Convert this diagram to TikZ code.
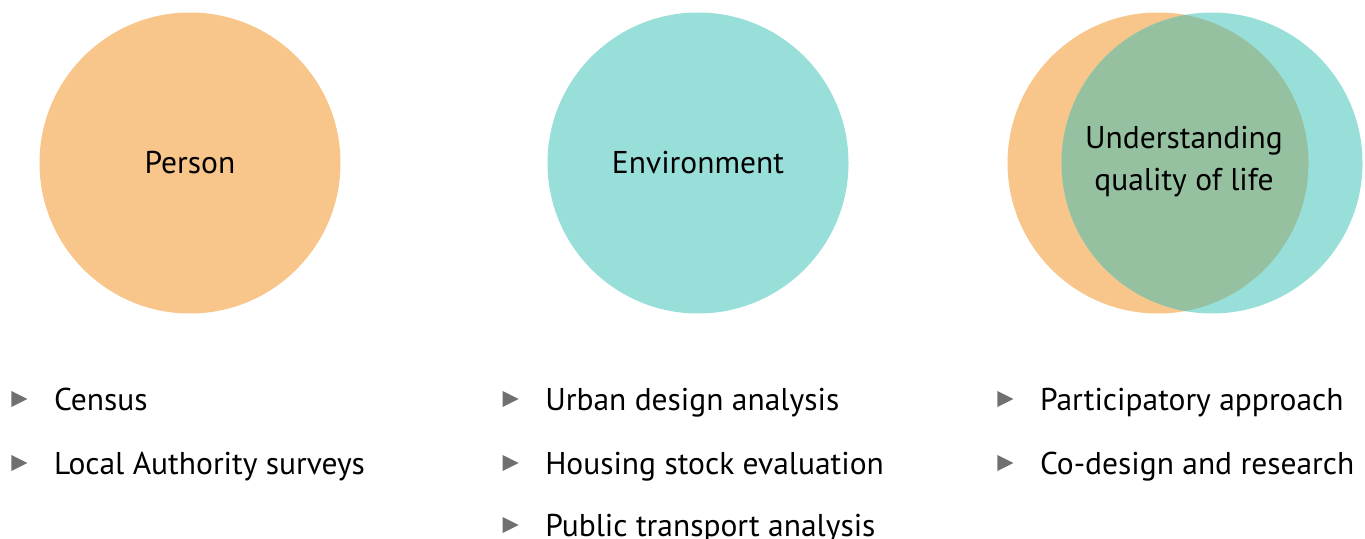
\documentclass[tikz,border=0pt]{standalone}
\usepackage{fontspec}
\setmainfont{PT Sans}
\usetikzlibrary{shapes.geometric,positioning}
\definecolor{peach}{RGB}{248,197,138}
\definecolor{aqua}{RGB}{152,222,217}
\definecolor{sage}{RGB}{150,193,160}
\definecolor{bulletgray}{RGB}{112,112,112}
\tikzset{
  disc/.style={circle,minimum size=301pt,inner sep=0pt},
  disctext/.style={align=center,inner sep=0pt,font=\fontsize{31.5}{42}\selectfont},
  tick/.style={isosceles triangle,isosceles triangle stretches,fill=bulletgray,
               inner sep=0pt,outer sep=0pt,minimum width=16pt,minimum height=16pt},
  item/.style={inner sep=0pt,anchor=west,text height=22pt,text depth=0pt,
               font=\fontsize{31.5}{36}\selectfont},
}

\begin{document}
\begin{tikzpicture}[x=1pt,y=-1pt]
  \useasboundingbox (0,0) rectangle (1365,538);

  % circles
  \node[disc,fill=peach] (person) at (190,163) {};
  \node[disc,fill=aqua] (env) at (698,163) {};
  \node[disc,fill=peach] (left) at (1158,163) {};
  \node[disc,fill=aqua] (right) at (1212,163) {};
  \begin{scope}
    \clip (1212,163) circle (150.5);
    \fill[sage] (1158,163) circle (150.5);
  \end{scope}

  \node[disctext] (persontxt) at (person) {Person};
  \node[disctext] (envtxt) at (env) {Environment};
  \node[disctext] (qol) at (1184,162) {Understanding\\ quality of life};

  % lists
  \node[tick] (b11) at (16.3,399) {};
  \node[item,right=26.5pt of b11] (census) {Census};
  \node[tick] (b12) at (16.3,463) {};
  \node[item,right=26.5pt of b12] (las) {Local Authority surveys};

  \node[tick] (b21) at (507.5,399) {};
  \node[item,right=26.5pt of b21] (urban) {Urban design analysis};
  \node[tick] (b22) at (507.5,463) {};
  \node[item,right=26.5pt of b22] (housing) {Housing stock evaluation};
  \node[tick] (b23) at (507.5,525) {};
  \node[item,right=26.5pt of b23] (transport) {Public transport analysis};

  \node[tick] (b31) at (1002.3,399) {};
  \node[item,right=26.5pt of b31] (partic) {Participatory approach};
  \node[tick] (b32) at (1002.3,463) {};
  \node[item,right=26.5pt of b32] (codesign) {Co-design and research};
\end{tikzpicture}
\end{document}
